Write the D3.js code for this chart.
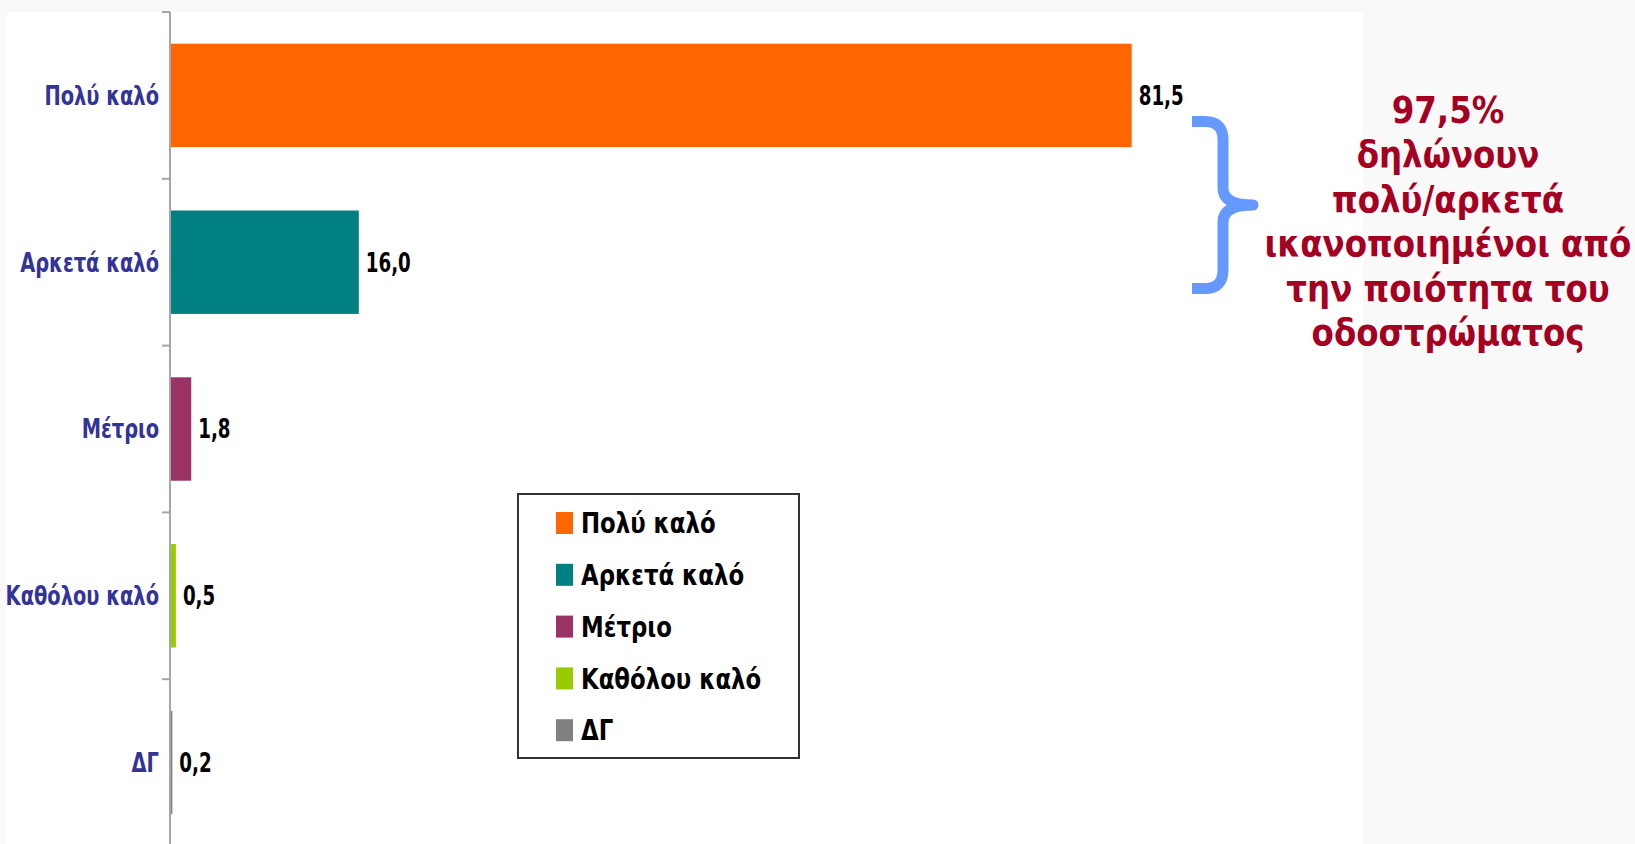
<!DOCTYPE html>
<html>
<head>
<meta charset="utf-8">
<script src="https://cdn.jsdelivr.net/npm/d3@7"></script>
<style>
  html, body { margin: 0; padding: 0; background: #f9f9f9; }
  svg { display: block; }
  text { font-family: "DejaVu Sans Condensed", "DejaVu Sans", sans-serif; font-weight: bold; }
</style>
</head>
<body>
<div id="chart"></div>
<script>
// Data
// =================================
var categories = ["Πολύ καλό", "Αρκετά καλό", "Μέτριο", "Καθόλου καλό", "ΔΓ"];
var values     = [81.5, 16.0, 1.8, 0.5, 0.2];
var colors     = ["#FF6600", "#008080", "#993366", "#99CC00", "#808080"];
var noteLines  = ["97,5%", "δηλώνουν", "πολύ/αρκετά", "ικανοποιημένοι από", "την ποιότητα του", "οδοστρώματος"];

var data = categories.map(function(c, i) {
  return {cat: c, value: values[i], color: colors[i]};
});

// Step 1: chart setup
// =================================
var svgWidth  = 1635;
var svgHeight = 844;

var plot = {left: 6, top: 12, right: 1363};
var axisX = 170;

var svg = d3.select("#chart")
  .append("svg")
  .attr("width", svgWidth)
  .attr("height", svgHeight);

// white plot area on the light grey slide
svg.append("rect")
  .attr("x", plot.left)
  .attr("y", plot.top)
  .attr("width", plot.right - plot.left)
  .attr("height", svgHeight - plot.top)
  .attr("fill", "#ffffff");

// Step 2: scales
// =================================
var xScale = d3.scaleLinear()
  .domain([0, 100])
  .range([axisX, axisX + 1180]);

var yScale = d3.scaleBand()
  .domain(categories)
  .range([plot.top, 846])
  .paddingInner(0.38)
  .paddingOuter(0.19);

var fmt = function(v) { return d3.format(".1f")(v).replace(".", ","); };

// Step 3: bars
// =================================
svg.append("g")
  .attr("id", "bars")
  .selectAll("rect")
  .data(data)
  .enter().append("rect")
    .attr("x", xScale(0))
    .attr("y", d => yScale(d.cat))
    .attr("width", d => xScale(d.value) - xScale(0))
    .attr("height", yScale.bandwidth())
    .attr("fill", d => d.color);

// Step 4: axis with ticks between categories
// =================================
var step = yScale.step();
var tickYs = categories.map(c => yScale(c) - yScale.paddingInner() * step / 2);
var axisG = svg.append("g").attr("id", "yAxis");

axisG.append("line")
  .attr("x1", axisX).attr("x2", axisX)
  .attr("y1", plot.top).attr("y2", svgHeight)
  .attr("stroke", "#a6a6a6")
  .attr("stroke-width", 2);

axisG.selectAll("line.tick")
  .data(tickYs)
  .enter().append("line")
    .attr("class", "tick")
    .attr("x1", axisX - 8).attr("x2", axisX)
    .attr("y1", d => d).attr("y2", d => d)
    .attr("stroke", "#a6a6a6")
    .attr("stroke-width", 2);

// category labels
axisG.selectAll("text")
  .data(categories)
  .enter().append("text")
    .attr("transform", d => `translate(${axisX - 11}, ${yScale(d) + yScale.bandwidth() / 2}) scale(0.8, 1)`)
    .attr("text-anchor", "end")
    .attr("dominant-baseline", "central")
    .attr("font-size", "27px")
    .attr("fill", "#333399")
    .text(d => d);

// Step 5: value labels
// =================================
svg.append("g")
  .attr("id", "values")
  .selectAll("text")
  .data(data)
  .enter().append("text")
    .attr("transform", d => `translate(${xScale(d.value) + 7}, ${yScale(d.cat) + yScale.bandwidth() / 2}) scale(0.78, 1)`)
    .attr("dominant-baseline", "central")
    .attr("font-size", "26px")
    .attr("fill", "#000000")
    .text(d => fmt(d.value));

// Step 6: legend
// =================================
var legend = svg.append("g").attr("id", "legend");
legend.append("rect")
  .attr("x", 518).attr("y", 494)
  .attr("width", 281).attr("height", 264)
  .attr("fill", "#ffffff")
  .attr("stroke", "#333333")
  .attr("stroke-width", 2);

var items = legend.selectAll("g.item")
  .data(data)
  .enter().append("g")
    .attr("class", "item")
    .attr("transform", (d, i) => `translate(556, ${523 + i * 51.8})`);

items.append("rect")
  .attr("x", 0).attr("y", -11)
  .attr("width", 17).attr("height", 22)
  .attr("fill", d => d.color);

items.append("text")
  .attr("transform", "translate(25, 0) scale(0.875, 1)")
  .attr("dominant-baseline", "central")
  .attr("font-size", "29px")
  .attr("fill", "#000000")
  .text(d => d.cat);

// Step 7: brace and note
// =================================
svg.append("path")
  .attr("d", "M1192,121.5 L1205,121.5 Q1223,121.5 1223,140 L1223,188 Q1223,205 1253,205 " +
             "Q1223,205 1223,222 L1223,270 Q1223,288.5 1205,288.5 L1192,288.5")
  .attr("fill", "none")
  .attr("stroke", "#6699FF")
  .attr("stroke-width", 11)
  .attr("stroke-linejoin", "round");

svg.append("g")
  .attr("id", "note")
  .selectAll("text")
  .data(noteLines)
  .enter().append("text")
    .attr("transform", (d, i) => `translate(1448, ${123 + i * 44.4}) scale(0.95, 1)`)
    .attr("text-anchor", "middle")
    .attr("font-size", "38px")
    .attr("fill", "#A50021")
    .text(d => d);
</script>
</body>
</html>
